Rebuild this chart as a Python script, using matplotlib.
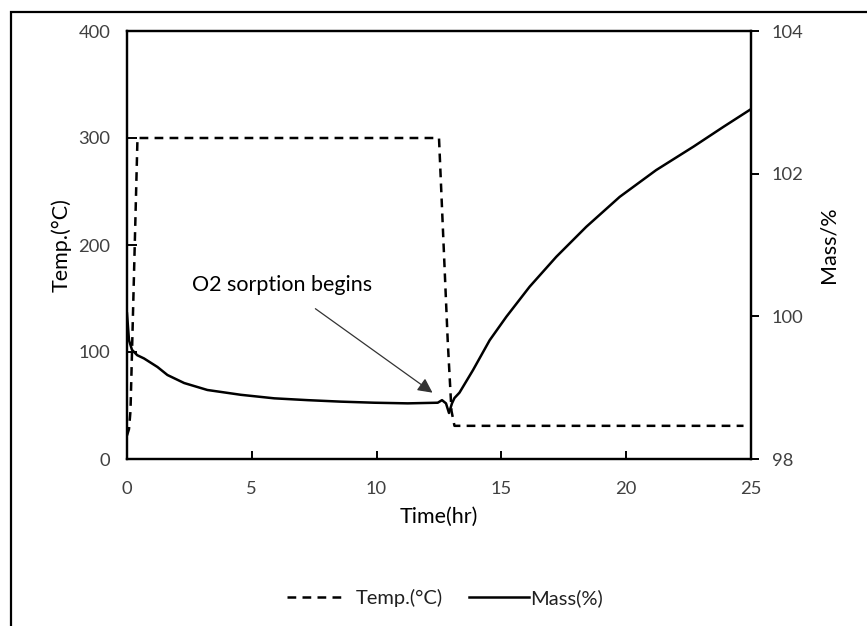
import matplotlib
matplotlib.use("Agg")
import matplotlib.pyplot as plt
from matplotlib.lines import Line2D
from matplotlib.patches import Rectangle

plt.rcParams['font.family'] = ['Lato', 'DejaVu Sans']

# Temperature profile (°C)
temp_time = [0.0, 0.08, 0.14, 0.42, 12.5, 12.85, 13.0, 13.12, 24.7]
temp_vals = [22, 28, 45, 300, 300, 110, 45, 31, 31]

# Mass profile expressed on the right axis (%)
mass_time = [0.0, 0.08, 0.2, 0.41, 0.68, 1.22, 1.62, 2.29, 3.22, 4.56, 5.9, 7.24,
             8.57, 9.9, 11.25, 12.45, 12.62, 12.78, 12.9, 13.02, 13.12, 13.32,
             13.86, 14.53, 15.2, 16.13, 17.2, 18.4, 19.74, 21.2, 22.7, 23.9, 25.0]
mass_temp_units = [136, 111, 102, 97, 94, 86, 78.5, 71, 64.5, 60, 56.7, 55,
                   53.6, 52.6, 52, 52.6, 55, 52, 43, 52, 57, 62,
                   83, 111, 133, 161, 189, 217, 245, 270, 292, 310.5, 327]
mass_vals = [98 + v * 6 / 400 for v in mass_temp_units]

x_ticks = [0, 5, 10, 15, 20, 25]
y_ticks = [0, 100, 200, 300, 400]
y2_ticks = [98, 100, 102, 104]

fig = plt.figure(figsize=(8.67, 6.26), dpi=100)
ax = fig.add_axes([127/867, 1-459/626, (751-127)/867, (459-31)/626])
ax2 = ax.twinx()

tick_color = '#404040'
dash = (0, (3.5, 2.5))
ax.plot(temp_time, temp_vals, color='black', lw=1.8, ls=dash)
ax2.plot(mass_time, mass_vals, color='black', lw=1.8)

ax.set_xlim(0, 25)
ax.set_ylim(0, 400)
ax2.set_ylim(98, 104)
ax.set_xticks(x_ticks)
ax.set_yticks(y_ticks)
ax2.set_yticks(y2_ticks)

for a in (ax, ax2):
    for s in a.spines.values():
        s.set_linewidth(1.6)
        s.set_color('black')

ax.tick_params(axis='x', direction='in', length=6, width=1.4, labelsize=13.2,
               labelcolor=tick_color, pad=16)
ax.tick_params(axis='y', direction='in', length=7, width=1.4, labelsize=13.2,
               labelcolor=tick_color, pad=12)
ax2.tick_params(axis='y', direction='out', length=6, width=1.4, labelsize=13.2,
                labelcolor=tick_color, pad=9)

ax.set_xlabel('Time(hr)', fontsize=15.5, color='black', labelpad=7)
ax.set_ylabel('Temp.(°C)', fontsize=15.5, color='black', labelpad=5)
ax2.set_ylabel('Mass/%', fontsize=15.5, color='black', labelpad=11)

ax.annotate('O2 sorption begins', xy=(12.24, 62), xytext=(6.2, 163),
            fontsize=15.5, color='black', ha='center', va='center',
            arrowprops=dict(arrowstyle='-|>', color='#333333', lw=0.9,
                            mutation_scale=22, shrinkA=14, shrinkB=0))

leg1 = fig.legend([Line2D([], [], color='black', lw=1.8, ls=dash)], ['Temp.(°C)'],
                  loc='center left', bbox_to_anchor=(287/867, 1-598/626),
                  frameon=False, fontsize=14.5, handlelength=2.7, handletextpad=0.7,
                  borderpad=0, borderaxespad=0, labelcolor='#202020')
leg2 = fig.legend([Line2D([], [], color='black', lw=1.8)], ['Mass(%)'],
                  loc='center left', bbox_to_anchor=(469/867, 1-598/626),
                  frameon=False, fontsize=14.5, handlelength=3.0, handletextpad=0.05,
                  borderpad=0, borderaxespad=0, labelcolor='#202020')

rect = Rectangle((11/867, -0.1), 1.2, 1 - 12/626 + 0.1, transform=fig.transFigure,
                 fill=False, edgecolor='black', lw=1.6, clip_on=False)
fig.add_artist(rect)

fig.savefig('out.png', dpi=100)
